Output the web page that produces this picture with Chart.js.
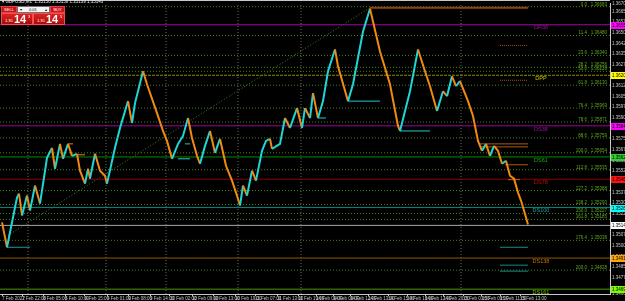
<!DOCTYPE html>
<html><head><meta charset="utf-8">
<script src="https://cdn.jsdelivr.net/npm/chart.js@4/dist/chart.umd.min.js"></script>
<style>
html,body{margin:0;padding:0;background:#000;overflow:hidden}
#wrap{position:relative;width:625px;height:301px;background:#000}
canvas{position:absolute;left:0;top:0}
.ov{position:absolute;font-family:"Liberation Sans","DejaVu Sans",sans-serif;color:#fff;white-space:nowrap;line-height:1}
.btn{background:#c8141e;border:1px solid #e84040;box-sizing:border-box;font-size:4px;text-align:center;padding-top:1px}
.pbox{background:linear-gradient(#e02020,#a80c0c);border:1px solid #f05050;box-sizing:border-box}
</style></head><body>
<div id="wrap">
<canvas id="c" width="625" height="301"></canvas>
<div class="ov" style="left:2px;top:0px;font-size:4.5px;color:#e8e8e8">▾ GBPUSD,M1 &nbsp;1.35150 1.35158 1.35139 1.35143</div>
<div class="ov btn" style="left:1px;top:6px;width:16px;height:7px">SELL</div>
<div class="ov" style="left:17px;top:6px;width:33px;height:7px;background:#f4f4f4;border:1px solid #707070;box-sizing:border-box;color:#000;font-size:4px;padding-top:1px"><span style="position:absolute;left:2px">▾</span><span style="position:absolute;left:11px">0.01</span><span style="position:absolute;right:2px">▴</span></div>
<div class="ov btn" style="left:50px;top:6px;width:15px;height:7px">BUY</div>
<div class="ov pbox" style="left:1px;top:13px;width:32px;height:12px"><span style="position:absolute;left:3px;top:5px;font-size:4px">1.35</span><span style="position:absolute;left:12px;top:0px;font-size:11px;font-weight:bold">14</span><span style="position:absolute;left:26px;top:1px;font-size:4px">3</span></div>
<div class="ov pbox" style="left:33px;top:13px;width:32px;height:12px"><span style="position:absolute;left:3px;top:5px;font-size:4px">1.35</span><span style="position:absolute;left:12px;top:0px;font-size:11px;font-weight:bold">14</span><span style="position:absolute;left:26px;top:1px;font-size:4px">5</span></div>
</div>
<script>
// ---- data ----
const barX = [2,7,17,19,22,27,30,35,40,47,52,55,60,63,68,72,77,80,85,88,90,95,100,105,107,115,120,128,132,135,143,147,157,163,167,172,178,183,188,192,197,200,205,210,215,220,226,232,237,240,243,247,252,256,262,266,270,272,280,285,290,297,302,305,310,313,318,323,328,335,338,348,353,363,370,373,380,390,398,400,410,418,425,430,437,443,447,452,456,460,468,473,478,482,486,490,494,498,502,506,510,514,518,521,524,528];
const closePrice = [1.35164,1.34989,1.35339,1.35367,1.35213,1.35353,1.35248,1.35423,1.35297,1.35619,1.35689,1.35542,1.35717,1.35612,1.35717,1.35633,1.35647,1.35528,1.35437,1.35542,1.35472,1.35647,1.35528,1.35493,1.35437,1.35689,1.35829,1.36018,1.35864,1.36004,1.36228,1.36137,1.35934,1.35808,1.35738,1.35612,1.35717,1.35773,1.35899,1.35759,1.35633,1.35577,1.35703,1.35808,1.35654,1.35752,1.35563,1.35458,1.35353,1.35283,1.35423,1.35353,1.35528,1.35458,1.35668,1.35738,1.35752,1.35682,1.35717,1.35899,1.35829,1.35969,1.35829,1.35969,1.35899,1.36074,1.35899,1.36018,1.36228,1.36382,1.36263,1.36018,1.36137,1.36508,1.36669,1.36578,1.36368,1.36137,1.35843,1.35808,1.36088,1.36382,1.36228,1.36123,1.35948,1.36088,1.36053,1.36193,1.36123,1.36158,1.36018,1.35913,1.35738,1.35668,1.35717,1.35633,1.35703,1.35668,1.35577,1.35598,1.35493,1.35472,1.35374,1.35318,1.35248,1.35150];

const fibNames  = ['0.0','11.4','23.6','38.2','50.0','61.8','76.4','78.6','88.6','100.0','112.8','127.2','138.2','150.0','161.8','176.4','200.0'];
const fibPrices = [1.36683,1.36480,1.36340,1.36256,1.36228,1.36130,1.35969,1.35871,1.35759,1.35654,1.35535,1.35388,1.35290,1.35227,1.35185,1.35038,1.34828];

const pivotNames  = ['DR38','DPP','DS38','DS61','DS78','DS100','DS138','DS161'];
const pivotPrices = [1.36556,1.36200,1.35844,1.35625,1.35468,1.35269,1.34913,1.34694];
const pivotLine   = ['#a000a0','#8a8a00','#a000a0','#008c00','#8b0000','#008080','#8b5a00','#4c9a00'];
const pivotText   = ['#9a109a','#c8c800','#9a109a','#10b010','#c01010','#10a0a0','#c07010','#70c000'];
const pivotTag    = ['#ff00ff','#ffff00','#ff00ff','#32cd32','#ff1010','#00ffff','#ffa500','#7cfc00'];

const currentPrice = 1.35143;

// short helper lines: [fromBar, toBar, price, colour]
const segFrom  = [370,500,500,480,480,505,508,68,77,178,185,318,348,400,7,500,500,500];
const segTo    = [528,528,528,528,528,528,520,73,85,190,190,326,380,430,30,528,528,528];
const segPrice = [1.36676,1.36410,1.36165,1.35717,1.35696,1.35570,1.35465,1.35717,1.35640,1.35612,1.35717,1.35899,1.36018,1.35808,1.34989,1.34989,1.34863,1.34821];
const segColor = ['#8b4513','#a0520e','#a0520e','#b05a10','#b05a10','#b05a10','#c06010','#e08a10','#e08a10','#20c8c8','#20c8c8','#20c8c8','#20c8c8','#20c8c8','#1a9a9a','#1a8a8a','#1a8a8a','#1a8a8a'];

const trendBars   = [8,370];
const trendPrices = [1.35073,1.36676];

const dayBreaks = [28,106,166,238,301,461];

const tickBars   = [2,22,43,65,85,107,128,150,170,192,213,235,255,277,298,316,333,350,368,388,407,425,443,463,482,500,520];
const timeLabels = ['7 Feb 2022','7 Feb 22:00','8 Feb 05:00','8 Feb 10:00','8 Feb 15:00','9 Feb 01:00','9 Feb 08:00','9 Feb 14:00','10 Feb 02:00','10 Feb 09:00','10 Feb 13:00','10 Feb 19:00','11 Feb 07:00','11 Feb 13:00','11 Feb 19:00','14 Feb 06:00','14 Feb 09:00','14 Feb 12:00','14 Feb 13:00','14 Feb 15:00','14 Feb 16:00','14 Feb 17:00','14 Feb 20:00','15 Feb 03:00','15 Feb 09:00','15 Feb 11:00','15 Feb 13:00'];

const X_MIN = 0, X_MAX = 610, Y_MIN = 1.34660, Y_MAX = 1.36704;
const UP = '#1fd6d6', DN = '#f08a10';

// ---- datasets ----
const ds = [];
ds.push({data: barX.map((x,i)=>({x, y: closePrice[i]})), borderWidth:2, borderColor:UP, pointRadius:0,
  segment:{borderColor: c => c.p1.parsed.y >= c.p0.parsed.y ? UP : DN}});
segFrom.forEach((f,i)=>ds.push({data:[{x:f,y:segPrice[i]},{x:segTo[i],y:segPrice[i]}], borderColor:segColor[i], borderWidth:i===0?2:1, pointRadius:0, borderDash: (i>0&&i<3)?[1,1]:[]}));
ds.push({data:[{x:X_MIN,y:currentPrice},{x:X_MAX,y:currentPrice}], borderColor:'#a8a8a8', borderWidth:1, pointRadius:0});
pivotPrices.forEach((p,i)=>ds.push({data:[{x:X_MIN,y:p},{x:X_MAX,y:p}], borderColor:pivotLine[i], borderWidth:1, pointRadius:0, borderDash: pivotNames[i]==='DPP'?[3,1]:[]}));
fibPrices.forEach(p=>ds.push({data:[{x:X_MIN,y:p},{x:X_MAX,y:p}], borderColor:'#45831a', borderWidth:1, pointRadius:0, borderDash:[1,2]}));
ds.push({data: trendBars.map((x,i)=>({x,y:trendPrices[i]})), borderColor:'#3d8a1c', borderWidth:1, pointRadius:0, borderDash:[1,2]});
dayBreaks.forEach(b=>ds.push({data:[{x:b,y:Y_MIN},{x:b,y:Y_MAX}], borderColor:'#6a6a6a', borderWidth:1, pointRadius:0, borderDash:[1,2]}));

const FONT = '"Liberation Sans","DejaVu Sans",sans-serif';
const overlay = {
  id:'overlay',
  afterDatasetsDraw(chart){
    const {ctx, chartArea:a, scales:{y}} = chart;
    ctx.save();
    ctx.font = '4.5px '+FONT; ctx.textAlign='right'; ctx.textBaseline='bottom'; ctx.fillStyle='#5fa81e';
    fibPrices.forEach((p,i)=>ctx.fillText(fibNames[i]+'   '+p.toFixed(5), a.right-3, y.getPixelForValue(p)));
    ctx.font = '5.5px '+FONT; ctx.textAlign='center'; ctx.textBaseline='top';
    pivotPrices.forEach((p,i)=>{ctx.fillStyle=pivotText[i]; ctx.fillText(pivotNames[i], 541, y.getPixelForValue(p)+0.5);});
    ctx.restore();
  },
  afterDraw(chart){
    const {ctx, chartArea:a, scales:{y}} = chart;
    ctx.save();
    ctx.strokeStyle='#c8c8c8'; ctx.lineWidth=1;
    ctx.beginPath(); ctx.moveTo(0,0.5); ctx.lineTo(a.right,0.5); ctx.stroke();
    ctx.font='4.5px '+FONT; ctx.textAlign='left'; ctx.textBaseline='middle';
    const tags = pivotPrices.map((p,i)=>[p,pivotTag[i]]).concat([[currentPrice,'#ffffff']]);
    tags.forEach(([p,c])=>{const py=Math.round(y.getPixelForValue(p)); ctx.fillStyle=c; ctx.fillRect(a.right+1,py-3,15,7); ctx.fillStyle='#000'; ctx.fillText(p.toFixed(5), a.right+2, py+0.5);});
    ctx.restore();
  }
};

new Chart(document.getElementById('c'), {
  type:'line',
  data:{datasets:ds},
  options:{
    responsive:false, animation:false, events:[],
    layout:{padding:{top:2,left:0,right:0,bottom:0}},
    plugins:{legend:{display:false}, tooltip:{enabled:false}},
    elements:{line:{tension:0}},
    scales:{
      x:{type:'linear', min:X_MIN, max:X_MAX,
        afterBuildTicks: s => { s.ticks = tickBars.map(v=>({value:v})); },
        afterFit: s => { s.height = 7; },
        ticks:{autoSkip:false, maxRotation:0, minRotation:0, align:'start', padding:0, font:{size:4.5,family:FONT}, color:'#c8c8c8', callback:(v,i)=>timeLabels[i]},
        grid:{drawOnChartArea:false, tickLength:2, color:'#c8c8c8'},
        border:{color:'#c8c8c8'}},
      y:{position:'right', min:Y_MIN, max:Y_MAX,
        afterFit: s => { s.width = 15; },
        ticks:{stepSize:0.00075, padding:1, font:{size:4.5,family:FONT}, color:'#c8c8c8', callback:v=>Number(v).toFixed(5)},
        grid:{drawOnChartArea:false, tickLength:1, color:'#c8c8c8'},
        border:{color:'#c8c8c8'}}
    }
  },
  plugins:[overlay]
});
</script>
</body></html>
